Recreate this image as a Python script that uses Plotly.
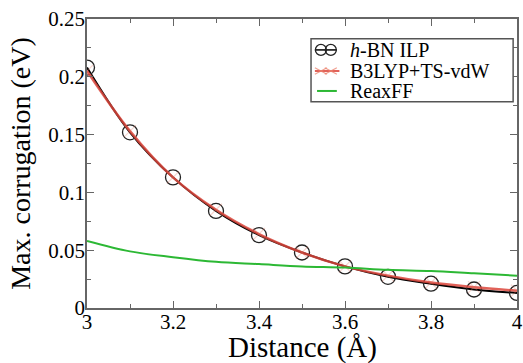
import plotly.graph_objects as go

distance = [3.0, 3.1, 3.2, 3.3, 3.4, 3.5, 3.6, 3.7, 3.8, 3.9, 4.0]
hbn_ilp = [0.208, 0.152, 0.113, 0.084, 0.063, 0.048, 0.036, 0.027, 0.021, 0.016, 0.013]
b3lyp = [0.205, 0.153, 0.113, 0.085, 0.064, 0.048, 0.036, 0.028, 0.022, 0.018, 0.015]
reaxff = [0.058, 0.049, 0.044, 0.040, 0.038, 0.036, 0.035, 0.033, 0.032, 0.030, 0.028]

x_ticks = [3, 3.2, 3.4, 3.6, 3.8, 4]
x_labels = ["3", "3.2", "3.4", "3.6", "3.8", "4"]
y_ticks = [0, 0.05, 0.1, 0.15, 0.2, 0.25]
y_labels = ["0", "0.05", "0.1", "0.15", "0.2", "0.25"]
legend_labels = ["<i>h</i>-BN ILP", "B3LYP+TS-vdW", "ReaxFF"]

font = "Liberation Serif"
BLACK = "black"
RED = "rgba(220,70,60,0.85)"
RED_MARK = "rgba(235,130,110,0.75)"
GREEN = "#2cb834"
FRAME = "#666"

fig = go.Figure()
fig.add_trace(go.Scatter(
    x=distance, y=hbn_ilp, mode="lines+markers", name=legend_labels[0],
    line=dict(color=BLACK, width=2, shape="spline"),
    marker=dict(symbol="circle-open", size=15, color="#222", line=dict(width=1.3)),
))
fig.add_trace(go.Scatter(
    x=distance, y=b3lyp, mode="lines+markers", name=legend_labels[1],
    line=dict(color=RED, width=2.5, shape="spline"),
    marker=dict(symbol="x-thin-open", size=12, color="rgba(230,120,100,0.3)",
                line=dict(width=1.2, color="rgba(230,120,100,0.3)")),
))
fig.add_trace(go.Scatter(
    x=distance, y=reaxff, mode="lines", name=legend_labels[2],
    line=dict(color=GREEN, width=2, shape="spline"),
))

axis_common = dict(
    showline=True, linecolor=FRAME, linewidth=1.5, mirror="allticks",
    ticks="inside", ticklen=7, tickcolor=FRAME, tickwidth=1,
    showgrid=False, zeroline=False, automargin=False,
    tickfont=dict(family=font, size=21, color="black"),
)

# ---- hand-drawn legend box (paper coordinates) ----
lx0, lx1, ly0, ly1 = 0.521, 0.991, 0.714, 0.932
rows = [0.893, 0.820, 0.751]
sym_x0, sym_x1 = 0.530, 0.581
mark_xs = [0.544, 0.567]
rx, ry = 0.0128, 0.019
text_x = 0.608

shapes = [dict(type="rect", xref="paper", yref="paper", x0=lx0, x1=lx1, y0=ly0, y1=ly1,
               line=dict(color="#555", width=1.5), fillcolor="white", layer="above")]
shapes.append(dict(type="line", xref="paper", yref="paper", x0=sym_x0, x1=sym_x1,
                   y0=rows[0], y1=rows[0], line=dict(color=BLACK, width=1.5), layer="above"))
for mx in mark_xs:
    shapes.append(dict(type="circle", xref="paper", yref="paper",
                       x0=mx - rx, x1=mx + rx, y0=rows[0] - ry, y1=rows[0] + ry,
                       line=dict(color="#222", width=1.3), layer="above"))
shapes.append(dict(type="line", xref="paper", yref="paper", x0=sym_x0, x1=sym_x1 + 0.006,
                   y0=rows[1], y1=rows[1], line=dict(color=RED, width=2), layer="above"))
for mx in mark_xs:
    for s in (1, -1):
        shapes.append(dict(type="line", xref="paper", yref="paper",
                           x0=mx - rx * 1.1, x1=mx + rx * 1.1,
                           y0=rows[1] - s * ry * 0.6, y1=rows[1] + s * ry * 0.6,
                           line=dict(color=RED_MARK, width=1.2), layer="above"))
shapes.append(dict(type="line", xref="paper", yref="paper", x0=sym_x0 + 0.005, x1=sym_x1,
                   y0=rows[2], y1=rows[2], line=dict(color=GREEN, width=2), layer="above"))

annotations = [
    dict(text="Distance (Å)", xref="paper", yref="paper", x=0.5, y=-0.135,
         xanchor="center", yanchor="middle", showarrow=False,
         font=dict(family=font, size=29, color="black")),
    dict(text="Max. corrugation (eV)", xref="paper", yref="paper", x=-0.155, y=0.5,
         xanchor="center", yanchor="middle", showarrow=False, textangle=-90,
         font=dict(family=font, size=28, color="black")),
]
for label, ry_ in zip(legend_labels, rows):
    annotations.append(dict(text=label, xref="paper", yref="paper", x=text_x, y=ry_,
                            xanchor="left", yanchor="middle", showarrow=False,
                            font=dict(family=font, size=20, color="black")))

fig.update_layout(
    width=523, height=363,
    margin=dict(l=87, r=6, t=19, b=55),
    plot_bgcolor="white", paper_bgcolor="white",
    font=dict(family=font, color="black"),
    xaxis=dict(range=[3, 4], tickvals=x_ticks, ticktext=x_labels, ticklabelstandoff=-6,
               minor=dict(dtick=0.1, tick0=3, ticks="inside", ticklen=4, tickcolor=FRAME),
               **axis_common),
    yaxis=dict(range=[0, 0.25], tickvals=y_ticks, ticktext=y_labels, ticklabelstandoff=-4,
               minor=dict(dtick=0.025, tick0=0, ticks="inside", ticklen=4, tickcolor=FRAME),
               **axis_common),
    shapes=shapes,
    annotations=annotations,
    showlegend=False,
)

fig.write_html("out.html", config={"displayModeBar": False},
               post_script="document.body.style.margin='0';")
